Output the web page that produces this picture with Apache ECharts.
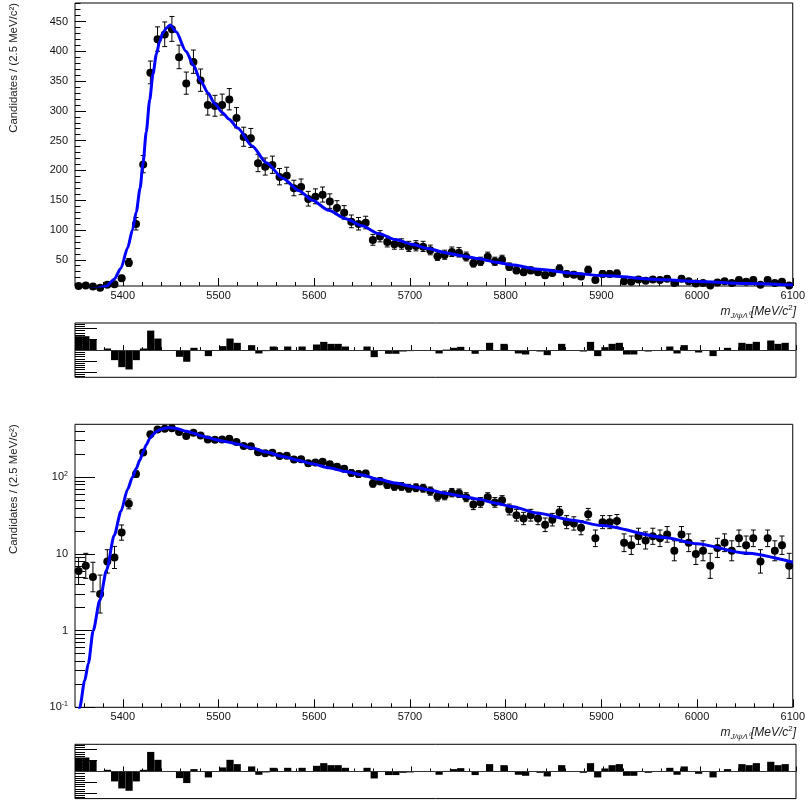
<!DOCTYPE html>
<html><head><meta charset="utf-8">
<script src="https://cdn.jsdelivr.net/npm/echarts@6/dist/echarts.min.js"></script>
<style>html,body{margin:0;padding:0;background:#fff}#c{width:808px;height:801px}</style>
</head><body><div id="c"></div>
<script>
// ---- binning of the mass histogram ----
const binLow = 5350, binWidth = 7.5;
// ---- data: candidates per bin ----
const counts = [6,7,5,3,8,9,19,45,110,210,
 364,420,428,437,390,346,382,351,310,308,
 310,319,288,256,254,212,206,209,189,191,
 170,172,152,156,159,148,137,129,114,110,
 112,83,89,80,76,76,72,73,72,66,
 56,58,63,62,55,44,47,55,47,50,
 38,32,29,32,29,24,28,35,26,25,
 22,33,16,26,26,27,14,13,17,15,
 17,16,18,11,18,14,10,11,7,12,
 14,11,16,13,16,8,16,11,13,7];
// ---- pulls / residuals per bin ----
const pulls = [2.57,2.57,1.96,0,0.3,-1.84,-3.13,-3.56,-1.84,0.3,
 3.6,2.14,0,0,-1.23,-2.14,0.43,0,-1.1,0,
 0.74,2.14,1.35,0,0.92,-0.61,-0.18,0.67,0,0.67,
 0,0.67,0,1.04,1.53,1.16,1.16,0.67,0,0,
 0.67,-1.29,0,-0.67,-0.67,-0.25,-0.18,0,0,0,
 -0.61,0.1,0.43,0.61,0,-0.67,0,1.35,0,1.16,
 0,-0.61,-0.8,0,-0.25,-0.92,0,1.16,0,0,
 -0.25,1.53,-1.1,0.55,1.16,1.35,-0.8,-0.8,0,-0.25,
 0,0,0.67,-0.61,0.92,0,-0.43,0,-1.1,0,
 0.43,0,1.35,1.16,1.53,0,1.78,1.16,1.35,0];
// ---- fit curve ----
const fitMass = [5350,5355,5360,5364,5369,5376,5383,5391,5398,5405,5410,5414,5418,5421,5424.5,5428,5431.5,5435,5438.5,5442,5445.5,5449.5,5455.5,5466,5474,5481,5489,5496,5504,5511,5520,5535,5550,5567,5584,5598,5615,5633,5650,5667,5685,5702,5719,5737,5755,5771,5790,5806,5834,5870,5900,5966,6000,6050,6100];
const fitValue = [0.05,0.1,0.22,0.375,1.0,2.5,6.2,17.5,36,70,100,130,170,211,265,318,362,395,417,431,439,444,433,400,376,351,330,312,297,286,271,241,213,187,166,150,133,119,107,94,84,76,69,62,56.5,52,46,41.5,34,27.5,23.5,16.4,13.6,10.3,7.8];
// ---- ticks ----
const massTicks = [5400,5500,5600,5700,5800,5900,6000,6100];
const linTicks = [50,100,150,200,250,300,350,400,450];
const logTicks = [0.1,1,10,100];
const logTickLabels = ['{b|10}{s|-1}','1','10','{b|10}{s|2}'];
const logMinorTicks = [0.2,0.3,0.4,0.5,0.6,0.7,0.8,0.9,2,3,4,5,6,7,8,9,20,30,40,50,60,70,80,90,200,300,400];
const pullTicks = [-4,-2,0,2,4];

const massMinor = []; for (let m = 5360; m < 6100; m += 20) if (m % 100) massMinor.push(m);
const linMinor = []; for (let v = 10; v < 481; v += 10) if (v % 50) linMinor.push(v);
const pullMinor = []; for (let i = -12; i <= 12; i++) if (i % 5) pullMinor.push(+(i*0.4).toFixed(1));

const centers = counts.map((_, i) => binLow + binWidth * (i + 0.5));
const pts = counts.map((n, i) => [centers[i], n]);
const errs = counts.map((n, i) => [centers[i], n + 0.5 - Math.sqrt(n + 0.25), n + 0.5 + Math.sqrt(n + 0.25)]);
const fitPts = fitMass.map((m, i) => [m, fitValue[i]]);
const pullPts = pulls.map((p, i) => [centers[i], p]);

const FONT = '"Liberation Sans", Arial, Helvetica, sans-serif';
const L = 75, W = 721;
const gridDefs = [
  {top: 3, height: 283}, {top: 323, height: 54.3},
  {top: 424.3, height: 283}, {top: 744.3, height: 54.3}
];
const grid = gridDefs.map(g => ({left: L, width: W, top: g.top, height: g.height,
  show: true, borderColor: '#000', borderWidth: 1, backgroundColor: 'transparent'}));

function xAxes(gi, showLabels, majLen, minLen) {
  return [
    {type: 'value', gridIndex: gi, min: 5350, max: 6100, position: 'bottom',
     axisLine: {show: false}, splitLine: {show: false},
     axisTick: {show: true, inside: true, length: majLen, customValues: massTicks, lineStyle: {color: '#000', width: 1}},
     axisLabel: {show: showLabels, customValues: massTicks, margin: 4, fontSize: 11, color: '#111', fontFamily: FONT,
       formatter: v => String(v)}},
    {type: 'value', gridIndex: gi, min: 5350, max: 6100, position: 'bottom',
     axisLine: {show: false}, splitLine: {show: false},
     axisTick: {show: true, inside: true, length: minLen, customValues: massMinor, lineStyle: {color: '#000', width: 1}},
     axisLabel: {show: false}}
  ];
}
function yAxes(gi, type, min, max, major, minor, majLen, minLen, labelOpt) {
  return [
    Object.assign({type: type, gridIndex: gi, min: min, max: max, position: 'left',
     axisLine: {show: false}, splitLine: {show: false},
     axisTick: {show: true, inside: true, length: majLen, customValues: major, lineStyle: {color: '#000', width: 1}},
     axisLabel: labelOpt}, type === 'log' ? {logBase: 10} : {}),
    Object.assign({type: type, gridIndex: gi, min: min, max: max, position: 'left',
     axisLine: {show: false}, splitLine: {show: false},
     axisTick: {show: true, inside: true, length: minLen, customValues: minor, lineStyle: {color: '#000', width: 1}},
     axisLabel: {show: false}}, type === 'log' ? {logBase: 10} : {})
  ];
}

const xAxis = [].concat(xAxes(0, true, 8, 4), xAxes(1, false, 5, 3), xAxes(2, true, 8, 4), xAxes(3, false, 5, 3));
const yAxis = [].concat(
  yAxes(0, 'value', 6, 481, linTicks, linMinor, 11, 5.5,
    {show: true, customValues: linTicks, margin: 7, fontSize: 11, color: '#111', fontFamily: FONT}),
  yAxes(1, 'value', -5, 5, pullTicks, pullMinor, 22, 10, {show: false}),
  yAxes(2, 'log', 0.1, 491, logTicks, logMinorTicks, 20, 10,
    {show: true, customValues: logTicks, margin: 7, fontSize: 11, color: '#111', fontFamily: FONT,
     formatter: v => logTickLabels[logTicks.findIndex(t => Math.abs(Math.log10(t) - Math.log10(v)) < 1e-6)],
     rich: {b: {fontSize: 11, fontFamily: FONT, color: '#111'},
            s: {fontSize: 7, fontFamily: FONT, color: '#111', verticalAlign: 'top', padding: [0, 0, 6, 0]}}}),
  yAxes(3, 'value', -5, 5, pullTicks, pullMinor, 22, 10, {show: false})
);

function errSeries(xi, yi) {
  return {type: 'custom', xAxisIndex: xi, yAxisIndex: yi, data: errs, z: 3, clip: true,
    encode: {x: 0, y: [1, 2]},
    renderItem: function (params, api) {
      const x = api.value(0), lo = api.value(1), hi = api.value(2);
      const p1 = api.coord([x, lo]), p2 = api.coord([x, hi]);
      const cw = 2.5, st = {stroke: '#000', lineWidth: 1};
      return {type: 'group', children: [
        {type: 'line', shape: {x1: p1[0], y1: p1[1], x2: p2[0], y2: p2[1]}, style: st},
        {type: 'line', shape: {x1: p1[0]-cw, y1: p1[1], x2: p1[0]+cw, y2: p1[1]}, style: st},
        {type: 'line', shape: {x1: p2[0]-cw, y1: p2[1], x2: p2[0]+cw, y2: p2[1]}, style: st}
      ]};
    }};
}
function ptSeries(xi, yi) {
  return {type: 'scatter', xAxisIndex: xi, yAxisIndex: yi, data: pts, symbol: 'circle', symbolSize: 8,
    itemStyle: {color: '#000', opacity: 1}, z: 4, clip: false, silent: true};
}
function fitSeries(xi, yi) {
  return {type: 'line', xAxisIndex: xi, yAxisIndex: yi, data: fitPts, showSymbol: false, smooth: 0.25,
    smoothMonotone: 'x', clip: true, lineStyle: {color: '#0000ff', width: 3}, z: 5, silent: true};
}
function pullSeries(xi, yi) {
  return {type: 'bar', xAxisIndex: xi, yAxisIndex: yi, data: pullPts, barWidth: 7.21, barGap: '-100%',
    itemStyle: {color: '#000'}, silent: true,
    markLine: {silent: true, symbol: 'none', label: {show: false}, animation: false,
      lineStyle: {color: '#333', width: 1, type: 'solid'}, data: [{yAxis: 0}]}};
}

const ytitle = y => ({type: 'text', x: 14, y: y, rotation: Math.PI / 2,
  style: {text: 'Candidates / (2.5 MeV/c²)', fontSize: 11.4, fontFamily: FONT, fill: '#222', align: 'right', verticalAlign: 'middle'}});
const xtitle = y => ({type: 'text', x: 796, y: y,
  style: {text: '{m|m}{s|J/ψΛ⁰}{t|[MeV/c}{p|2}{t|]}', align: 'right', verticalAlign: 'middle', fill: '#222',
    rich: {m: {fontSize: 12, fontStyle: 'italic', fontFamily: FONT, lineHeight: 16, verticalAlign: 'middle'},
           s: {fontSize: 8, fontStyle: 'italic', fontFamily: FONT, lineHeight: 16, verticalAlign: 'bottom'},
           t: {fontSize: 12, fontStyle: 'italic', fontFamily: FONT, lineHeight: 16, verticalAlign: 'middle'},
           p: {fontSize: 8, fontFamily: FONT, lineHeight: 16, verticalAlign: 'top'}}}});

const chart = echarts.init(document.getElementById('c'), null, {renderer: 'canvas'});
chart.setOption({
  animation: false,
  backgroundColor: '#fff',
  grid: grid,
  xAxis: xAxis,
  yAxis: yAxis,
  series: [
    errSeries(0, 0), ptSeries(0, 0), fitSeries(0, 0),
    pullSeries(2, 2),
    errSeries(4, 4), ptSeries(4, 4), fitSeries(4, 4),
    pullSeries(6, 6)
  ],
  graphic: [ytitle(3), ytitle(424.3), xtitle(312), xtitle(733)]
});
</script></body></html>
